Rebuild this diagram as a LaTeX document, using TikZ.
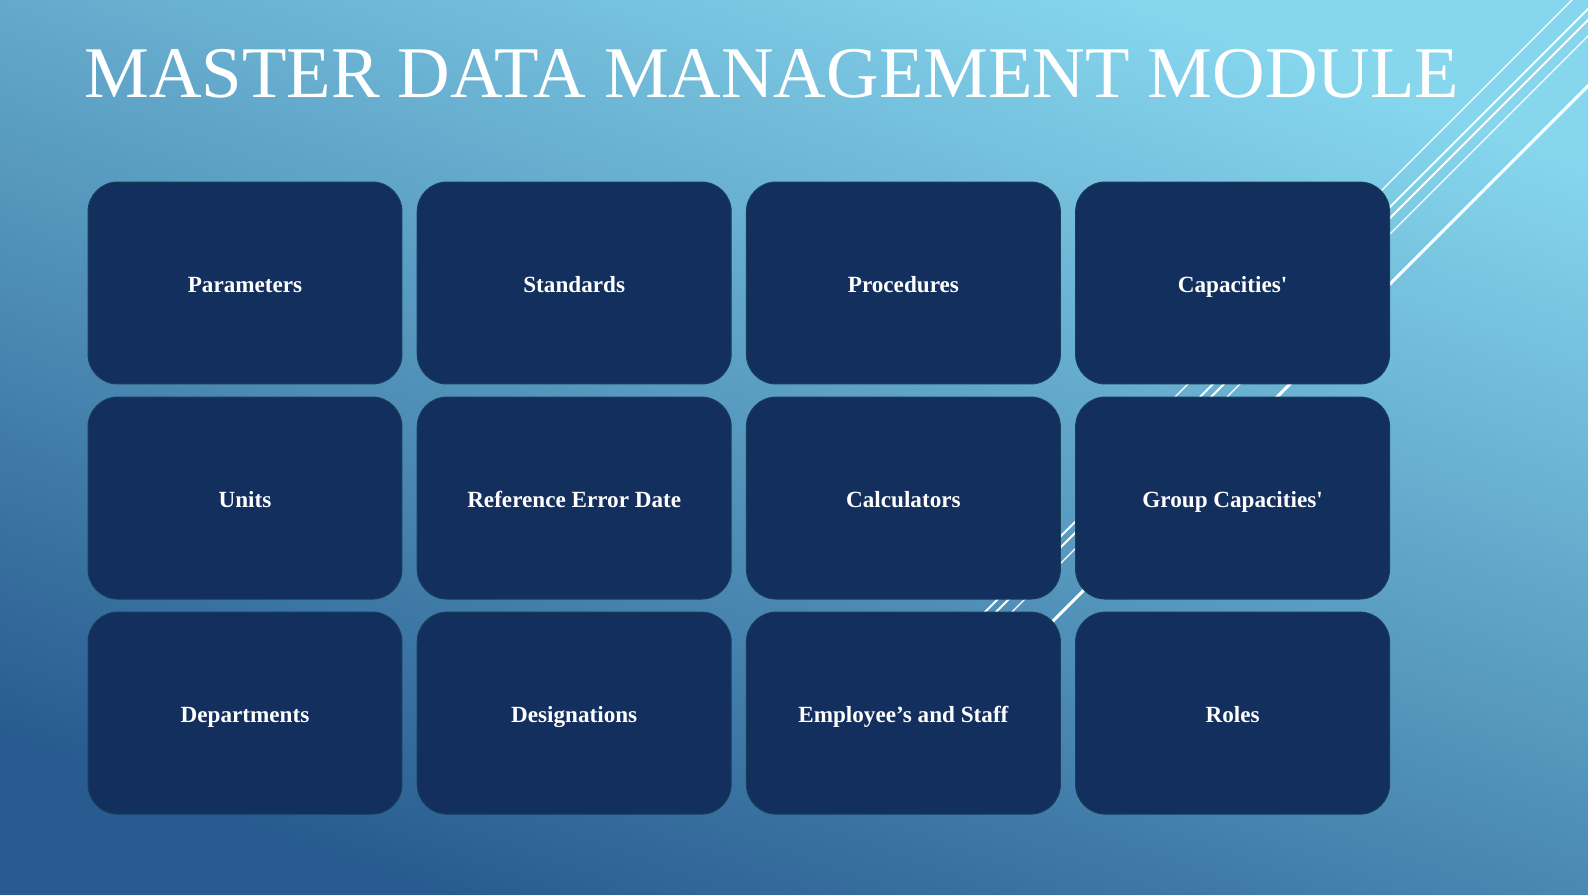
\documentclass[tikz,border=0pt]{standalone}
\usepackage{fontspec}
\setmainfont{Liberation Serif}
\usetikzlibrary{positioning}
\definecolor{skytop}{RGB}{134,214,238}
\definecolor{skybot}{RGB}{40,92,144}
\definecolor{tileblue}{RGB}{19,47,94}
\definecolor{tileedge}{RGB}{24,62,88}

\begin{document}
\begin{tikzpicture}[x=0.6045pt, y=-0.6045pt,
  tile/.style={draw=tileedge, line width=0.6pt, fill=tileblue, rounded corners=18pt,
    minimum width=189.8pt, minimum height=122.1pt, inner sep=0pt,
    text height=14.8pt, text depth=3pt,
    font=\fontsize{14}{17}\selectfont\bfseries, text=white},
  streak/.style={draw=white, line cap=butt}]

% ===== slide 1588 x 894 px, 1px = 0.6045pt =====
\shade[top color=skytop, bottom color=skybot, shading angle=-20] (0,0) rectangle (1588,894);
\useasboundingbox (0,0) rectangle (1588,894);

% ============ diagonal streaks behind the tiles ============
\begin{scope}
  \clip (0,0) rectangle (1588,894);
  \foreach \c/\w/\lo in {1572/0.8/450, 1597/1.2/700, 1608/1.2/700, 1624/0.8/700, 1674/1.8/700}
    \draw[streak, line width=\w pt] (\c-\lo,\lo) -- (\c+50,-50);
\end{scope}

% ============ title ============
\node[anchor=base west, inner sep=0pt, text=white, font=\fontsize{44}{50}\selectfont] (title)
  at (84,97.7) {MASTER DATA MANAGEMENT MODULE};

% ============ tiles ============
\node[tile] (par) at (245,283) {Parameters};
\node[tile, right=8.6pt of par] (std) {Standards};
\node[tile, right=8.6pt of std] (proc) {Procedures};
\node[tile, right=8.6pt of proc] (cap) {Capacities\textquotesingle};

\node[tile, below=7.3pt of par] (units) {Units};
\node[tile, right=8.6pt of units] (ref) {Reference Error Date};
\node[tile, right=8.6pt of ref] (calc) {Calculators};
\node[tile, right=8.6pt of calc] (grp) {Group Capacities\textquotesingle};

\node[tile, below=7.3pt of units] (dept) {Departments};
\node[tile, right=8.6pt of dept] (desig) {Designations};
\node[tile, right=8.6pt of desig] (emp) {Employee’s and Staff};
\node[tile, right=8.6pt of emp] (roles) {Roles};

\end{tikzpicture}
\end{document}
